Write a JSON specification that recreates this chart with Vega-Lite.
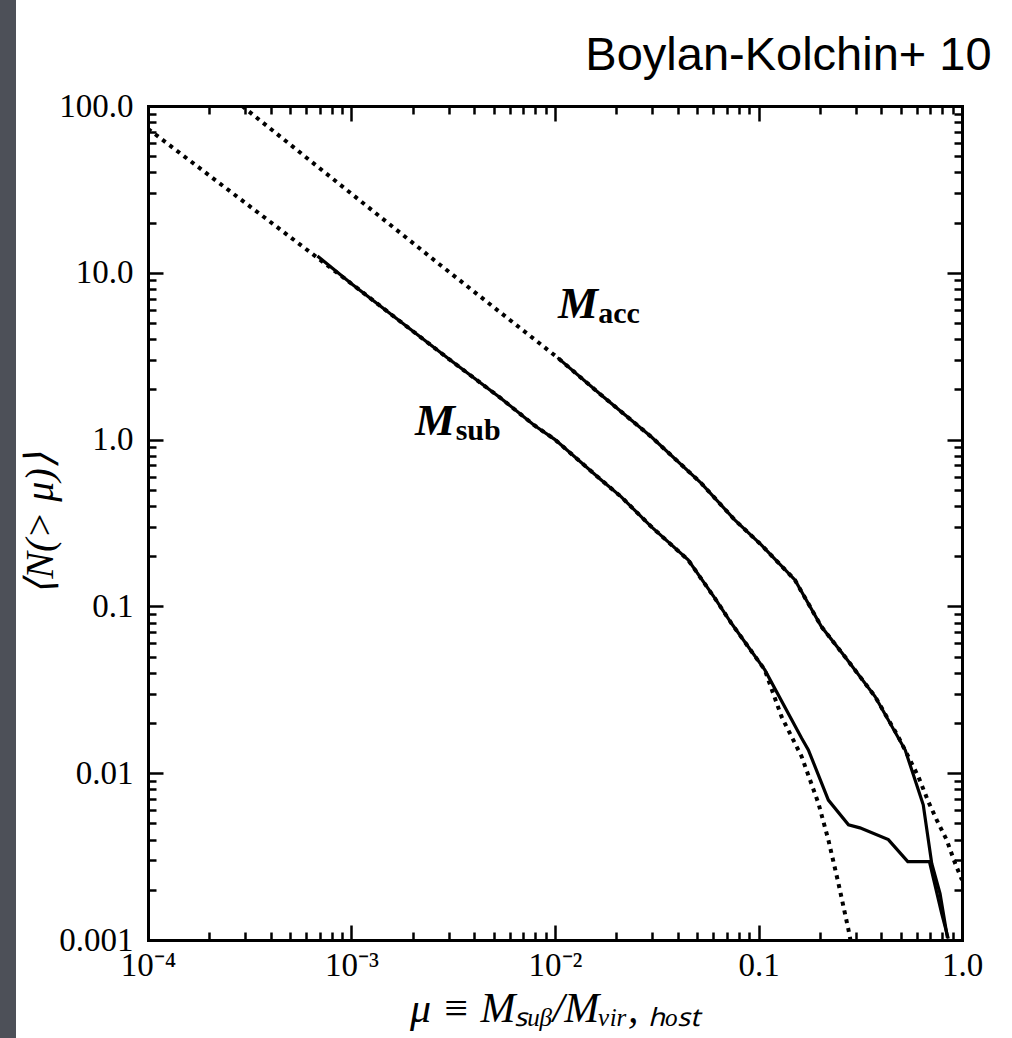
{
  "$schema": "https://vega.github.io/schema/vega-lite/v6.json",
  "width": 814,
  "height": 834,
  "autosize": {"type": "none"},
  "padding": {"left": 148, "top": 106, "right": 50, "bottom": 98},
  "background": "#4d5058",
  "title": {"text": "Boylan-Kolchin+ 10", "anchor": "end", "font": "Liberation Sans", "fontSize": 47, "fontWeight": "normal", "color": "black", "offset": 10, "dx": 9},
  "config": {
    "view": {"stroke": "white", "strokeWidth": 264, "fill": "white"},
    "axis": {"domainColor": "black", "domainWidth": 3, "domainCap": "square", "tickColor": "black", "tickWidth": 2.5, "grid": false, "labelFont": "Liberation Serif", "labelFontSize": 33, "labelColor": "black", "titleFont": "Liberation Serif", "titleFontSize": 40, "titleFontWeight": "normal", "titleFontStyle": "italic", "titleColor": "black", "labelOverlap": false, "labelFlush": false}
  },
  "datasets": {
    "curves": [
      {"mu": 0.0001, "N": 73, "series": "Msub fit", "kind": "fit"},
      {"mu": 0.001, "N": 8.6, "series": "Msub fit", "kind": "fit"},
      {"mu": 0.003, "N": 3.05, "series": "Msub fit", "kind": "fit"},
      {"mu": 0.00542, "N": 1.77, "series": "Msub fit", "kind": "fit"},
      {"mu": 0.0079, "N": 1.22, "series": "Msub fit", "kind": "fit"},
      {"mu": 0.01, "N": 1.0, "series": "Msub fit", "kind": "fit"},
      {"mu": 0.01687, "N": 0.573, "series": "Msub fit", "kind": "fit"},
      {"mu": 0.0211, "N": 0.455, "series": "Msub fit", "kind": "fit"},
      {"mu": 0.0297, "N": 0.301, "series": "Msub fit", "kind": "fit"},
      {"mu": 0.0451, "N": 0.19, "series": "Msub fit", "kind": "fit"},
      {"mu": 0.061, "N": 0.112, "series": "Msub fit", "kind": "fit"},
      {"mu": 0.0736, "N": 0.0792, "series": "Msub fit", "kind": "fit"},
      {"mu": 0.1074, "N": 0.0416, "series": "Msub fit", "kind": "fit"},
      {"mu": 0.1298, "N": 0.0218, "series": "Msub fit", "kind": "fit"},
      {"mu": 0.163, "N": 0.01256, "series": "Msub fit", "kind": "fit"},
      {"mu": 0.197, "N": 0.0066, "series": "Msub fit", "kind": "fit"},
      {"mu": 0.2205, "N": 0.00398, "series": "Msub fit", "kind": "fit"},
      {"mu": 0.247, "N": 0.00219, "series": "Msub fit", "kind": "fit"},
      {"mu": 0.2768, "N": 0.00115, "series": "Msub fit", "kind": "fit"},
      {"mu": 0.283, "N": 0.001, "series": "Msub fit", "kind": "fit"},
      {"mu": 0.00029, "N": 100, "series": "Macc fit", "kind": "fit"},
      {"mu": 0.00274, "N": 11.1, "series": "Macc fit", "kind": "fit"},
      {"mu": 0.0103, "N": 3.1, "series": "Macc fit", "kind": "fit"},
      {"mu": 0.01687, "N": 1.85, "series": "Macc fit", "kind": "fit"},
      {"mu": 0.0297, "N": 1.04, "series": "Macc fit", "kind": "fit"},
      {"mu": 0.0524, "N": 0.547, "series": "Macc fit", "kind": "fit"},
      {"mu": 0.0764, "N": 0.33, "series": "Macc fit", "kind": "fit"},
      {"mu": 0.1035, "N": 0.233, "series": "Macc fit", "kind": "fit"},
      {"mu": 0.151, "N": 0.144, "series": "Macc fit", "kind": "fit"},
      {"mu": 0.204, "N": 0.0755, "series": "Macc fit", "kind": "fit"},
      {"mu": 0.266, "N": 0.0499, "series": "Macc fit", "kind": "fit"},
      {"mu": 0.374, "N": 0.0288, "series": "Macc fit", "kind": "fit"},
      {"mu": 0.487, "N": 0.0165, "series": "Macc fit", "kind": "fit"},
      {"mu": 0.555, "N": 0.012, "series": "Macc fit", "kind": "fit"},
      {"mu": 0.61, "N": 0.00955, "series": "Macc fit", "kind": "fit"},
      {"mu": 0.683, "N": 0.00676, "series": "Macc fit", "kind": "fit"},
      {"mu": 0.751, "N": 0.00525, "series": "Macc fit", "kind": "fit"},
      {"mu": 0.841, "N": 0.00398, "series": "Macc fit", "kind": "fit"},
      {"mu": 0.924, "N": 0.00289, "series": "Macc fit", "kind": "fit"},
      {"mu": 1.0, "N": 0.00229, "series": "Macc fit", "kind": "fit"},
      {"mu": 0.00068, "N": 12.6, "series": "Msub", "kind": "sim"},
      {"mu": 0.001, "N": 8.6, "series": "Msub", "kind": "sim"},
      {"mu": 0.003, "N": 3.05, "series": "Msub", "kind": "sim"},
      {"mu": 0.00542, "N": 1.77, "series": "Msub", "kind": "sim"},
      {"mu": 0.0079, "N": 1.22, "series": "Msub", "kind": "sim"},
      {"mu": 0.01, "N": 1.0, "series": "Msub", "kind": "sim"},
      {"mu": 0.01687, "N": 0.573, "series": "Msub", "kind": "sim"},
      {"mu": 0.0211, "N": 0.455, "series": "Msub", "kind": "sim"},
      {"mu": 0.0297, "N": 0.301, "series": "Msub", "kind": "sim"},
      {"mu": 0.0451, "N": 0.19, "series": "Msub", "kind": "sim"},
      {"mu": 0.061, "N": 0.112, "series": "Msub", "kind": "sim"},
      {"mu": 0.0736, "N": 0.0792, "series": "Msub", "kind": "sim"},
      {"mu": 0.1074, "N": 0.0416, "series": "Msub", "kind": "sim"},
      {"mu": 0.163, "N": 0.0162, "series": "Msub", "kind": "sim"},
      {"mu": 0.1758, "N": 0.0138, "series": "Msub", "kind": "sim"},
      {"mu": 0.2205, "N": 0.0069, "series": "Msub", "kind": "sim"},
      {"mu": 0.2768, "N": 0.0049, "series": "Msub", "kind": "sim"},
      {"mu": 0.315, "N": 0.0047, "series": "Msub", "kind": "sim"},
      {"mu": 0.4345, "N": 0.004, "series": "Msub", "kind": "sim"},
      {"mu": 0.5415, "N": 0.00295, "series": "Msub", "kind": "sim"},
      {"mu": 0.692, "N": 0.00295, "series": "Msub", "kind": "sim"},
      {"mu": 0.794, "N": 0.00145, "series": "Msub", "kind": "sim"},
      {"mu": 0.856, "N": 0.00102, "series": "Msub", "kind": "sim"},
      {"mu": 0.0103, "N": 3.1, "series": "Macc", "kind": "sim"},
      {"mu": 0.01687, "N": 1.85, "series": "Macc", "kind": "sim"},
      {"mu": 0.0297, "N": 1.04, "series": "Macc", "kind": "sim"},
      {"mu": 0.0524, "N": 0.547, "series": "Macc", "kind": "sim"},
      {"mu": 0.0764, "N": 0.33, "series": "Macc", "kind": "sim"},
      {"mu": 0.1035, "N": 0.233, "series": "Macc", "kind": "sim"},
      {"mu": 0.151, "N": 0.144, "series": "Macc", "kind": "sim"},
      {"mu": 0.204, "N": 0.0755, "series": "Macc", "kind": "sim"},
      {"mu": 0.266, "N": 0.0499, "series": "Macc", "kind": "sim"},
      {"mu": 0.374, "N": 0.0288, "series": "Macc", "kind": "sim"},
      {"mu": 0.526, "N": 0.01377, "series": "Macc", "kind": "sim"},
      {"mu": 0.645, "N": 0.00646, "series": "Macc", "kind": "sim"},
      {"mu": 0.71, "N": 0.00288, "series": "Macc", "kind": "sim"},
      {"mu": 0.78, "N": 0.0019, "series": "Macc", "kind": "sim"},
      {"mu": 0.848, "N": 0.00103, "series": "Macc", "kind": "sim"}
    ],
    "labels": [
      {"mu": 0.01035, "N": 5.38, "text": "M", "part": "main"},
      {"mu": 0.0163, "N": 5.02, "text": "acc", "part": "sub"},
      {"mu": 0.00205, "N": 1.07, "text": "M", "part": "main"},
      {"mu": 0.00325, "N": 1.0, "text": "sub", "part": "sub"}
    ]
  },
  "layer": [
    {
      "data": {"name": "curves"},
      "transform": [{"filter": "datum.kind == 'fit'"}],
      "mark": {"type": "line", "color": "black", "strokeWidth": 4, "strokeDash": [4, 5], "clip": true},
      "encoding": {
        "x": {"field": "mu", "type": "quantitative", "scale": {"type": "log", "domain": [0.0001, 1], "nice": false},
          "axis": {"orient": "bottom", "values": [0.0001, 0.001, 0.01, 0.1, 1], "tickSize": -15, "labelPadding": 24,
            "labelExpr": "datum.value >= 0.1 ? format(datum.value, '.1f') : '10' + (datum.value < 0.0005 ? '⁻⁴' : datum.value < 0.005 ? '⁻³' : '⁻²')",
            "title": "μ ≡ Mₛᵤᵦ/Mᵥᵢᵣ, ₕₒₛₜ", "titlePadding": 6, "titleFontSize": 42}},
        "y": {"field": "N", "type": "quantitative", "scale": {"type": "log", "domain": [0.001, 100], "nice": false},
          "axis": {"orient": "left", "values": [0.001, 0.01, 0.1, 1, 10, 100], "tickSize": -15, "labelPadding": 30,
            "labelExpr": "datum.value >= 0.1 ? format(datum.value, '.1f') : datum.value >= 0.01 ? '0.01' : '0.001'",
            "title": "⟨N(> μ)⟩", "titlePadding": -2}},
        "detail": {"field": "series"}
      }
    },
    {
      "data": {"name": "curves"},
      "transform": [{"filter": "datum.kind == 'sim'"}],
      "mark": {"type": "line", "color": "black", "strokeWidth": 3.2, "clip": true},
      "encoding": {
        "x": {"field": "mu", "type": "quantitative",
          "axis": {"orient": "bottom", "values": [0.0002, 0.0003, 0.0004, 0.0005, 0.0006, 0.0007, 0.0008, 0.0009, 0.002, 0.003, 0.004, 0.005, 0.006, 0.007, 0.008, 0.009, 0.02, 0.03, 0.04, 0.05, 0.06, 0.07, 0.08, 0.09, 0.2, 0.3, 0.4, 0.5, 0.6, 0.7, 0.8, 0.9], "tickSize": -8, "labels": false, "title": null}},
        "y": {"field": "N", "type": "quantitative",
          "axis": {"orient": "left", "values": [0.002, 0.003, 0.004, 0.005, 0.006, 0.007, 0.008, 0.009, 0.02, 0.03, 0.04, 0.05, 0.06, 0.07, 0.08, 0.09, 0.2, 0.3, 0.4, 0.5, 0.6, 0.7, 0.8, 0.9, 2, 3, 4, 5, 6, 7, 8, 9, 20, 30, 40, 50, 60, 70, 80, 90], "tickSize": -8, "labels": false, "title": null}},
        "detail": {"field": "series"}
      }
    },
    {
      "data": {"name": "labels"},
      "transform": [{"filter": "datum.part == 'main'"}],
      "mark": {"type": "text", "font": "Liberation Serif", "fontSize": 45, "fontWeight": "bold", "fontStyle": "italic", "align": "left", "baseline": "alphabetic", "color": "black"},
      "encoding": {
        "x": {"field": "mu", "type": "quantitative",
          "axis": {"orient": "top", "values": [0.0001, 0.001, 0.01, 0.1, 1], "tickSize": -15, "labels": false, "title": null}},
        "y": {"field": "N", "type": "quantitative",
          "axis": {"orient": "right", "values": [0.001, 0.01, 0.1, 1, 10, 100], "tickSize": -15, "labels": false, "title": null}},
        "text": {"field": "text"}
      }
    },
    {
      "data": {"name": "labels"},
      "transform": [{"filter": "datum.part == 'sub'"}],
      "mark": {"type": "text", "font": "Liberation Serif", "fontSize": 30, "fontWeight": "bold", "align": "left", "baseline": "alphabetic", "color": "black"},
      "encoding": {
        "x": {"field": "mu", "type": "quantitative",
          "axis": {"orient": "top", "values": [0.0002, 0.0003, 0.0004, 0.0005, 0.0006, 0.0007, 0.0008, 0.0009, 0.002, 0.003, 0.004, 0.005, 0.006, 0.007, 0.008, 0.009, 0.02, 0.03, 0.04, 0.05, 0.06, 0.07, 0.08, 0.09, 0.2, 0.3, 0.4, 0.5, 0.6, 0.7, 0.8, 0.9], "tickSize": -8, "labels": false, "title": null}},
        "y": {"field": "N", "type": "quantitative",
          "axis": {"orient": "right", "values": [0.002, 0.003, 0.004, 0.005, 0.006, 0.007, 0.008, 0.009, 0.02, 0.03, 0.04, 0.05, 0.06, 0.07, 0.08, 0.09, 0.2, 0.3, 0.4, 0.5, 0.6, 0.7, 0.8, 0.9, 2, 3, 4, 5, 6, 7, 8, 9, 20, 30, 40, 50, 60, 70, 80, 90], "tickSize": -8, "labels": false, "title": null}},
        "text": {"field": "text"}
      }
    }
  ],
  "resolve": {"axis": {"x": "independent", "y": "independent"}}
}
